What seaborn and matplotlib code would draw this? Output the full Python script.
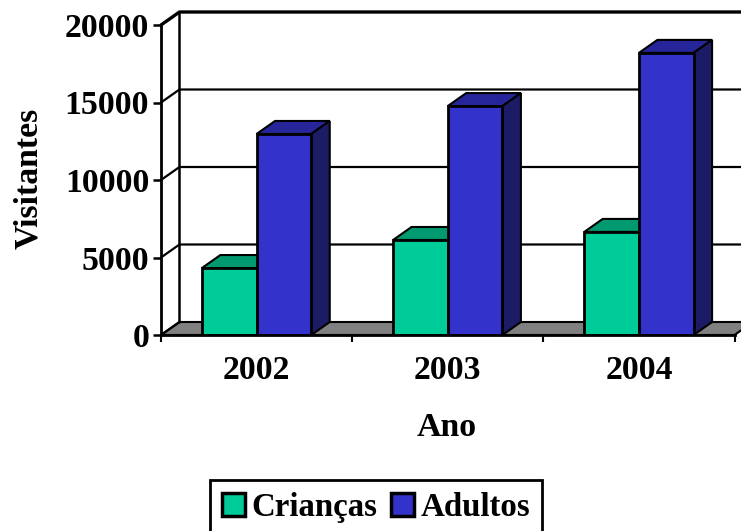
import matplotlib
matplotlib.use('Agg')
import matplotlib.pyplot as plt
from matplotlib.patches import Patch, Polygon
import pandas as pd
import seaborn as sns

anos = ['2002', '2003', '2004']
criancas = [4320, 6130, 6650]
adultos = [12970, 14770, 18200]

cores = {'Crianças': '#00cc99', 'Adultos': '#3333cc'}
cores_topo = {'Crianças': '#009970', 'Adultos': '#26269a'}
cores_lado = {'Crianças': '#007a5a', 'Adultos': '#1c1c66'}

df = pd.DataFrame({
    'Ano': anos * 2,
    'Grupo': ['Crianças'] * 3 + ['Adultos'] * 3,
    'Visitantes': criancas + adultos,
})

sns.set_theme(style='white')
plt.rcParams['font.family'] = ['Liberation Serif']
plt.rcParams['font.weight'] = 'bold'

W, H = 741, 531
LEFT = 161
LARG = 573.5
fig = plt.figure(figsize=(W / 100, H / 100), dpi=100)
ax = fig.add_axes([LEFT / W, 1 - 335 / H, LARG / W, 310 / H])

sns.barplot(data=df, x='Ano', y='Visitantes', hue='Grupo', palette=cores,
            width=0.572, gap=0, edgecolor='black', linewidth=2,
            legend=False, saturation=1, ax=ax)
ax.set_xlim(-0.5, 2.5)
ax.set_ylim(0, 20000)

# profundidade do efeito 3D, em unidades dos dados
dx = 18.5 / 191.5
dy = 13 / 310 * 20000
y_max = 20000

# fundo: piso cinza, paredes e grade
piso = Polygon([(-0.5, 0), (-0.5 + dx, dy), (2.5 + dx, dy), (2.5, 0)],
               facecolor='#808080', edgecolor='black', lw=1.5, zorder=0.5, clip_on=False)
ax.add_patch(piso)
for v in [5000, 10000, 15000, 20000]:
    lw = 2.4 if v == 20000 else 1.6
    ax.plot([-0.5, -0.5 + dx, 2.5 + dx], [v, v + dy, v + dy], color='black', lw=lw,
            zorder=0.6, clip_on=False, solid_joinstyle='miter')
ax.plot([-0.5 + dx, -0.5 + dx], [dy, y_max + dy], color='black', lw=1.8, zorder=0.6, clip_on=False)
ax.plot([-0.5, -0.5 + dx], [0, dy], color='black', lw=1.6, zorder=0.6, clip_on=False)

# faces de topo e lateral das barras
grupos = ['Crianças'] * 3 + ['Adultos'] * 3
for barra, grupo in zip(ax.patches[:6], grupos):
    x0 = barra.get_x()
    x1 = x0 + barra.get_width()
    h = barra.get_height()
    z = 1 if grupo == 'Crianças' else 2
    barra.set_zorder(z + 0.2)
    ax.add_patch(Polygon([(x0, h), (x0 + dx, h + dy), (x1 + dx, h + dy), (x1, h)],
                         facecolor=cores_topo[grupo], edgecolor='black', lw=1.5,
                         zorder=z, clip_on=False))
    ax.add_patch(Polygon([(x1, 0), (x1 + dx, dy), (x1 + dx, h + dy), (x1, h)],
                         facecolor=cores_lado[grupo], edgecolor='black', lw=1.5,
                         zorder=z, clip_on=False))

for lado in ['top', 'right']:
    ax.spines[lado].set_visible(False)
for lado in ['left', 'bottom']:
    ax.spines[lado].set_color('black')
    ax.spines[lado].set_linewidth(2)
    ax.spines[lado].set_zorder(5)

FS = 24.3
ax.set_yticks([0, 5000, 10000, 15000, 20000])
ax.tick_params(axis='y', left=True, length=6, width=1.8, color='black', labelsize=FS,
               labelcolor='black', pad=2.5)
ax.set_xticks([0, 1, 2])
ax.set_xticks([-0.5, 0.5, 1.5, 2.5], minor=True)
ax.tick_params(axis='x', which='major', bottom=False, labelsize=FS, labelcolor='black', pad=8.4)
ax.tick_params(axis='x', which='minor', bottom=True, length=5, width=1.5, color='black')
ax.set_xlabel('Ano', fontsize=FS, fontweight='bold', color='black')
ax.set_ylabel('Visitantes', fontsize=FS, fontweight='bold', color='black')
ax.xaxis.set_label_coords((447 - LEFT) / LARG, (335 - 427) / 310, transform=ax.transAxes)
ax.xaxis.label.set_va('center')
ax.yaxis.set_label_coords((29 - LEFT) / LARG, (335 - 178) / 310, transform=ax.transAxes)
ax.yaxis.label.set_va('center')

alcas = [Patch(facecolor=cores[g], edgecolor='black', lw=2.5, label=g) for g in ['Crianças', 'Adultos']]
leg = fig.legend(handles=alcas, loc='upper left', bbox_to_anchor=(210 / W, 1 - 480 / H),
                 bbox_transform=fig.transFigure, ncol=2, frameon=True, fancybox=False,
                 fontsize=23.7, handlelength=0.7, handleheight=0.7, handletextpad=0.2,
                 columnspacing=0.42, borderaxespad=0, borderpad=0.36, edgecolor='black',
                 framealpha=1, labelcolor='black')
leg.get_frame().set_linewidth(2)

fig.savefig('out.png', dpi=100)
